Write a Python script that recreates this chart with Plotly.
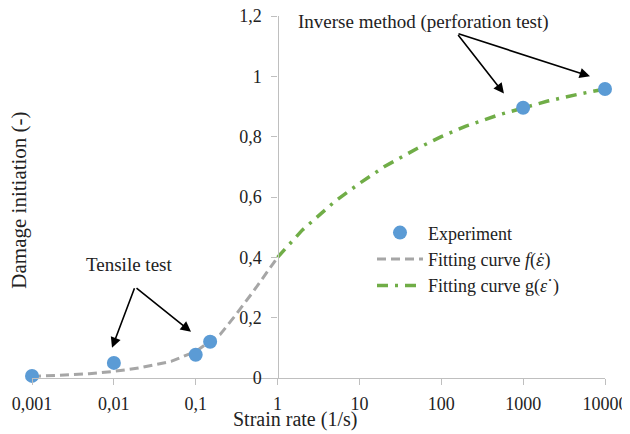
import math

import plotly.graph_objects as go

# experimental points
exp_rate = [0.001, 0.01, 0.1, 0.15, 1000, 10000]
exp_damage = [0.007, 0.05, 0.077, 0.12, 0.896, 0.958]

# fitting curve f (tensile range)
f_rate = [0.001, 0.002, 0.005, 0.01, 0.02, 0.05, 0.1, 0.2, 0.3, 0.5, 0.7, 1]
f_damage = [0.005, 0.008, 0.014, 0.022, 0.033, 0.055, 0.088, 0.145, 0.205, 0.285, 0.34, 0.40]

# fitting curve g (perforation range)
g_rate = [1, 2, 5, 10, 20, 50, 100, 200, 500, 1000, 2000, 5000, 10000]
g_damage = [0.40, 0.49, 0.585, 0.645, 0.70, 0.76, 0.80, 0.835, 0.872, 0.896, 0.918, 0.942, 0.958]

x_ticks = [0.001, 0.01, 0.1, 1, 10, 100, 1000, 10000]
x_ticktext = ["0,001", "0,01", "0,1", "1", "10", "100", "1000", "10000"]
y_ticks = [0, 0.2, 0.4, 0.6, 0.8, 1.0, 1.2]
y_ticktext = ["0", "0,2", "0,4", "0,6", "0,8", "1", "1,2"]

FONT = "Liberation Serif, Times New Roman, serif"
AXIS_GREY = "#bfbfbf"
TEXT = "#222"

fig = go.Figure()
fig.add_trace(
    go.Scatter(
        x=f_rate, y=f_damage, mode="lines", showlegend=False,
        line=dict(color="#a6a6a6", width=3, dash="9px,5px"),
    )
)
fig.add_trace(
    go.Scatter(
        x=g_rate, y=g_damage, mode="lines", showlegend=False,
        line=dict(color="#70ad47", width=3.5, dash="11px,7px,3px,7px"),
    )
)
fig.add_trace(
    go.Scatter(
        x=exp_rate, y=exp_damage, mode="markers", name="Experiment",
        marker=dict(color="#5b9bd5", size=14), cliponaxis=False,
    )
)
# legend-only entries for the curves (keeps legend order as in the figure)
fig.add_trace(
    go.Scatter(
        x=[None], y=[None], mode="lines",
        name="Fitting curve <i>f</i>(<span style=\"font-family:DejaVu Serif;font-size:16px\"><i>ε̇</i></span>)",
        line=dict(color="#a6a6a6", width=3, dash="9px,5px"),
    )
)
fig.add_trace(
    go.Scatter(
        x=[None], y=[None], mode="lines",
        name="Fitting curve g(<i>ε</i>˙)",
        line=dict(color="#70ad47", width=3.5, dash="11px,7px,3px,7px"),
    )
)

# arrows: (tip strain rate, tip damage, tail offset x, tail offset y) in px
arrows = [
    (0.0095, 0.10, 23, -61),
    (0.0876, 0.153, -56, -45),
    (583, 0.943, -47, -60),
    (6560, 1.0, -133, -43),
]
for tip_x, tip_y, dx, dy in arrows:
    fig.add_annotation(
        x=math.log10(tip_x), y=tip_y, xref="x", yref="y", text="",
        showarrow=True, ax=dx, ay=dy, arrowhead=2, arrowsize=1.3,
        arrowwidth=1.6, arrowcolor="black",
    )

fig.add_annotation(
    x=math.log10(0.0155), y=0.375, xref="x", yref="y", text="Tensile test",
    showarrow=False, font=dict(size=19, color=TEXT),
)
fig.add_annotation(
    x=math.log10(60), y=1.181, xref="x", yref="y",
    text="Inverse method (perforation test)", showarrow=False,
    font=dict(size=19, color=TEXT),
)
fig.add_annotation(
    x=-0.0226, y=0.49, xref="paper", yref="paper", text="Damage initiation (-)",
    xanchor="center", yanchor="middle", textangle=-90, showarrow=False,
    font=dict(size=21, color=TEXT),
)
fig.add_annotation(
    x=(295 - 32) / 573, y=-0.116, xref="paper", yref="paper",
    text="Strain rate (1/s)", xanchor="center", yanchor="middle",
    showarrow=False, font=dict(size=20, color=TEXT),
)

# the page body adds an 8px offset, margins compensate for it
fig.update_layout(
    width=630, height=434,
    margin=dict(l=24, r=33, t=8, b=64),
    paper_bgcolor="white", plot_bgcolor="white",
    font=dict(family=FONT, size=18, color=TEXT),
    legend=dict(
        x=(372 - 32) / 573, y=0.452, xanchor="left", yanchor="top",
        bgcolor="rgba(0,0,0,0)", itemwidth=46, font=dict(size=18),
    ),
)
fig.update_xaxes(
    type="log", range=[-3, 4], tickvals=x_ticks, ticktext=x_ticktext,
    showgrid=False, zeroline=False, showline=True, linecolor=AXIS_GREY,
    linewidth=1.3, ticks="outside", ticklen=6, tickcolor=AXIS_GREY,
    ticklabelstandoff=3, automargin=False, ticklabeloverflow="allow",
)
fig.update_yaxes(
    range=[0, 1.2], tickvals=y_ticks, ticktext=y_ticktext,
    anchor="free", position=3 / 7, showgrid=False, zeroline=False,
    showline=True, linecolor=AXIS_GREY, linewidth=1.3, ticks="outside",
    ticklen=6, tickcolor=AXIS_GREY, ticklabelstandoff=6, automargin=False,
    ticklabeloverflow="allow",
)

fig.write_html("out.html")
